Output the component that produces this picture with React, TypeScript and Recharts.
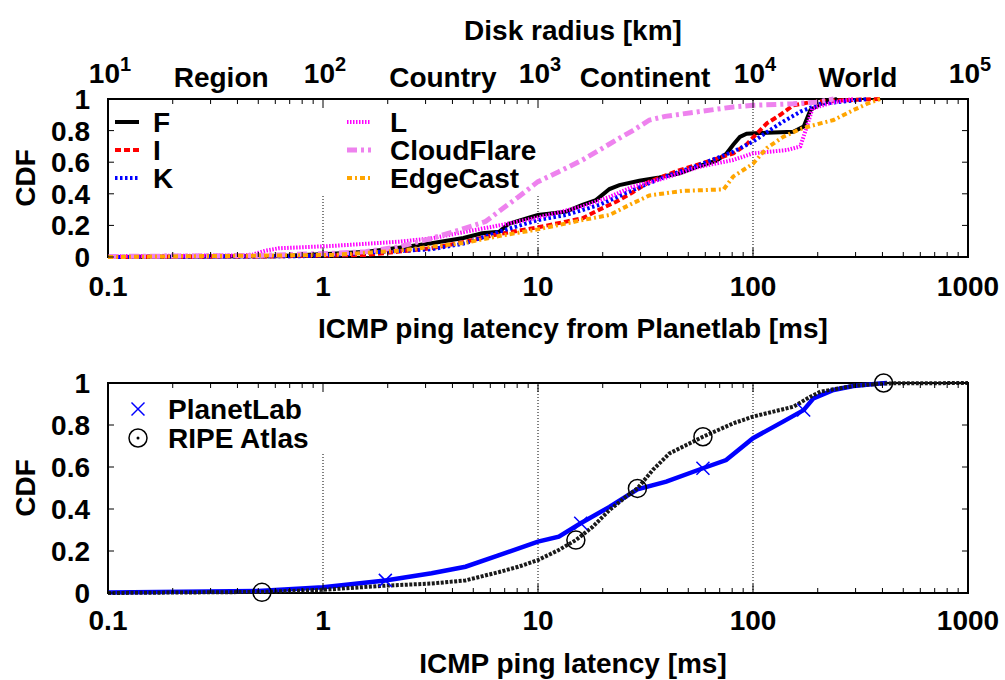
import React from 'react';
import { ComposedChart, Line, XAxis, YAxis, ReferenceLine, ReferenceArea, Legend, Label } from 'recharts';

const FONT = '"Liberation Sans", Arial, Helvetica, sans-serif';
const FS = 28;

type Pt = [number, number];

// ---- top chart: CDF of ICMP ping latency from Planetlab (ms, cdf)
const fPoints: Pt[] = [[0.1,0],[0.6,0.005],[1.1,0.02],[1.6,0.034],[2.3,0.06],[3.2,0.087],[4.5,0.12],[5.5,0.15],[6.6,0.16],[7.3,0.21],[9.4,0.255],[10,0.266],[13.5,0.287],[16.1,0.33],[18.6,0.36],[21.5,0.43],[23.9,0.455],[29.6,0.483],[36.7,0.504],[45.6,0.53],[56.5,0.576],[67.6,0.61],[75.3,0.655],[80.9,0.71],[86.9,0.76],[93.4,0.78],[116,0.787],[154,0.793],[172,0.825],[185,0.93],[206,0.97],[246,1.0]];
const iPoints: Pt[] = [[0.1,0],[0.6,0.004],[1.1,0.01],[1.58,0.013],[2.26,0.034],[3.2,0.055],[4.6,0.097],[6.6,0.146],[10,0.188],[13.5,0.224],[16.1,0.245],[19.3,0.3],[23.1,0.35],[27.6,0.41],[33,0.477],[45.6,0.55],[65,0.614],[81,0.656],[93,0.71],[104,0.78],[116,0.846],[134,0.9],[154,0.96],[185,0.98],[237,0.99],[390,1.0]];
const kPoints: Pt[] = [[0.1,0],[0.8,0.005],[1.2,0.015],[1.58,0.027],[3.2,0.049],[4.6,0.087],[6.6,0.16],[10,0.234],[13.5,0.266],[19.3,0.33],[27.6,0.424],[39,0.508],[56,0.582],[81,0.667],[100,0.73],[116,0.79],[138,0.857],[166,0.92],[206,0.97],[293,0.99],[340,1.0]];
const lPoints: Pt[] = [[0.1,0.005],[0.4,0.01],[0.47,0.015],[0.54,0.04],[0.62,0.055],[1.1,0.07],[2.26,0.097],[3.2,0.118],[4.6,0.16],[6.6,0.2],[10,0.25],[16.1,0.32],[21.5,0.38],[27.6,0.445],[39,0.5],[56,0.57],[81,0.614],[100,0.656],[144,0.677],[166,0.7],[178,0.825],[189,0.94],[237,0.98],[293,1.0]];
const cloudflarePoints: Pt[] = [[0.1,0.003],[0.5,0.01],[1.1,0.023],[1.58,0.034],[2.26,0.065],[3.2,0.118],[4.3,0.17],[5.7,0.224],[6.6,0.29],[8.1,0.38],[10,0.477],[12.5,0.54],[16.1,0.614],[19.3,0.677],[23.1,0.74],[27.6,0.8],[33,0.867],[39,0.89],[56,0.92],[81,0.95],[100,0.96],[154,0.97],[197,0.98],[237,1.0]];
const edgecastPoints: Pt[] = [[0.1,0],[1.1,0.013],[2.26,0.04],[3.2,0.065],[4.6,0.09],[6.6,0.133],[10,0.175],[16.1,0.234],[21.5,0.266],[27.6,0.34],[33,0.39],[47,0.418],[73,0.428],[81,0.51],[100,0.59],[116,0.69],[138,0.76],[166,0.81],[206,0.846],[237,0.867],[293,0.93],[340,0.97],[390,1.0]];

// ---- bottom chart: CDF of ICMP ping latency
const planetlabPoints: Pt[] = [[0.1,0.002],[0.5,0.01],[1,0.027],[1.95,0.06],[3.2,0.094],[4.6,0.125],[6.6,0.18],[10,0.245],[12.5,0.268],[15.8,0.332],[21.5,0.41],[29,0.494],[39.5,0.53],[58.5,0.594],[75,0.633],[100,0.737],[138,0.816],[172,0.871],[191,0.927],[237,0.967],[293,0.986],[390,0.998],[420,1.0]];
const ripePoints: Pt[] = [[0.1,0],[0.52,0.005],[1,0.015],[1.95,0.035],[3.2,0.045],[4.6,0.06],[6.6,0.1],[8.1,0.125],[10,0.157],[12.5,0.205],[15,0.252],[18,0.316],[21.5,0.395],[25.7,0.459],[29,0.498],[34.2,0.586],[40.9,0.665],[49,0.705],[58.5,0.744],[81,0.808],[100,0.84],[154,0.887],[185,0.935],[206,0.959],[293,0.986],[405,0.998],[1000,1.0]];
const planetlabMarks: Pt[] = [[1.95,0.06],[15.8,0.332],[58.5,0.594],[172,0.871]];
const ripeMarks: Pt[] = [[0.52,0.003],[15,0.252],[29,0.498],[58.5,0.744],[405,1.0]];

// ---- axes
const latencyLabels = [0.1, 1, 10, 100, 1000];
const cdfTicks = [0, 0.2, 0.4, 0.6, 0.8, 1];
const diskExponents = [1, 2, 3, 4, 5];
const diskZones: { name: string; km: number }[] = [
  { name: 'Region', km: 33.6 },
  { name: 'Country', km: 361 },
  { name: 'Continent', km: 3148 },
  { name: 'World', km: 30760 },
];
const gridTop: Pt[] = [[1, 0.39], [10, 0.39], [100, 1]];
const gridBottom: Pt[] = [[1, 0.67], [10, 1], [100, 1]];

const latencyTicks: number[] = (() => {
  const t: number[] = [];
  for (const d of [0.1, 1, 10, 100]) for (let m = 1; m <= 9; m++) t.push(+(m * d).toPrecision(3));
  t.push(1000);
  return t;
})();
const diskTicks = [...diskExponents.map((e) => Math.pow(10, e)), ...diskZones.map((z) => z.km)].sort((a, b) => a - b);
// axis anchor for the disk-radius scale (its two ends), so the top axis has a domain to draw
const diskAnchor = [{ km: 10, y: 0 }, { km: 100000, y: 0 }];

const toData = (pts: Pt[]) => pts.map(([x, y]) => ({ x, y }));

const topSeries = [
  { name: 'F', data: fPoints, color: '#000000', width: 4, dash: undefined as string | undefined },
  { name: 'I', data: iPoints, color: '#ff0000', width: 4, dash: '6 3' },
  { name: 'K', data: kPoints, color: '#0000ff', width: 4, dash: '2.5 2.5' },
  { name: 'L', data: lPoints, color: '#ff00ff', width: 4, dash: '1.5 1.5' },
  { name: 'CloudFlare', data: cloudflarePoints, color: '#ee82ee', width: 5, dash: '10 4 3 4' },
  { name: 'EdgeCast', data: edgecastPoints, color: '#ffa500', width: 4, dash: '5 3 2 3' },
];

const textStyle = { fontFamily: FONT, fontWeight: 700, fontSize: FS, fill: '#000' } as const;

const isDecade = (v: number) => Math.abs(Math.log10(v) - Math.round(Math.log10(v))) < 1e-6;

const makeXTick = (plotTop: number, labelDy: number) => (props: any) => {
  const { x, y, payload } = props;
  const v = payload.value as number;
  const major = isDecade(v);
  const len = major ? 9 : 5;
  return (
    <g>
      <line x1={x} x2={x} y1={y} y2={y - len} stroke="#000" strokeWidth={1} />
      <line x1={x} x2={x} y1={plotTop} y2={plotTop + len} stroke="#000" strokeWidth={1} />
      {major && latencyLabels.some((l) => Math.abs(l - v) / l < 1e-6) && (
        <text x={x} y={y + labelDy} textAnchor="middle" {...textStyle}>{String(v)}</text>
      )}
    </g>
  );
};

const makeYTick = (plotRight: number) => (props: any) => {
  const { x, y, payload } = props;
  const v = payload.value as number;
  const label = v === 0 ? '0' : v === 1 ? '1' : v.toFixed(1);
  return (
    <g>
      <line x1={x} x2={x + 6} y1={y} y2={y} stroke="#000" strokeWidth={1} />
      <line x1={plotRight - 6} x2={plotRight} y1={y} y2={y} stroke="#000" strokeWidth={1} />
      <text x={x - 18} y={y + 10} textAnchor="end" {...textStyle}>{label}</text>
    </g>
  );
};

const DiskTick = (props: any) => {
  const { x, y, payload } = props;
  const v = payload.value as number;
  const zone = diskZones.find((z) => Math.abs(z.km - v) / v < 1e-6);
  if (zone) {
    return <text x={x} y={y - 12} textAnchor="middle" {...textStyle}>{zone.name}</text>;
  }
  const e = Math.round(Math.log10(v));
  return (
    <text x={x + 2} y={y - 16} textAnchor="middle" {...textStyle}>
      <tspan>10</tspan>
      <tspan dy={-12} fontSize={20}>{String(e)}</tspan>
    </text>
  );
};

const TopLegend = () => (
  <svg width={1005} height={345} style={{ position: 'absolute', left: 0, top: 0, pointerEvents: 'none' }}>
    {topSeries.map((s, i) => {
      const col = Math.floor(i / 3);
      const row = i % 3;
      const x0 = col ? 347 : 115;
      const tx = col ? 390 : 153;
      const y = 122 + row * 28;
      return (
        <g key={s.name}>
          <line x1={x0} x2={x0 + 24} y1={y} y2={y} stroke={s.color} strokeWidth={s.width} strokeDasharray={s.dash} />
          <text x={tx} y={y + 10} {...textStyle}>{s.name}</text>
        </g>
      );
    })}
  </svg>
);

const XMark = (props: any) => {
  const { cx, cy } = props;
  if (cx == null || cy == null) return null;
  const r = 6.5;
  return (
    <g>
      <line x1={cx - r} y1={cy - r} x2={cx + r} y2={cy + r} stroke="#0000ff" strokeWidth={1.5} />
      <line x1={cx - r} y1={cy + r} x2={cx + r} y2={cy - r} stroke="#0000ff" strokeWidth={1.5} />
    </g>
  );
};

const CircleMark = (props: any) => {
  const { cx, cy } = props;
  if (cx == null || cy == null) return null;
  return <circle cx={cx} cy={cy} r={9} fill="none" stroke="#000" strokeWidth={1.5} />;
};

const BottomLegend = () => (
  <svg width={1005} height={335} style={{ position: 'absolute', left: 0, top: 0, pointerEvents: 'none' }}>
    <XMark cx={138} cy={64} />
    <text x={168} y={74} {...textStyle}>PlanetLab</text>
    <CircleMark cx={138} cy={93} />
    <circle cx={138} cy={93} r={1.5} fill="#000" />
    <text x={168} y={103} {...textStyle}>RIPE Atlas</text>
  </svg>
);

export default function App() {
  const topPlot = { top: 99, bottom: 257, right: 968 };
  const botPlot = { top: 38, bottom: 248, right: 968 };
  return (
    <div style={{ position: 'absolute', left: 0, top: 0, width: 1005, height: 680, background: '#fff' }}>
      <div style={{ position: 'absolute', left: 0, top: 0 }}>
        <ComposedChart width={1005} height={345} margin={{ top: 39, right: 37, left: 8, bottom: 8 }}>
          <XAxis
            xAxisId="km"
            dataKey="km"
            orientation="top"
            type="number"
            scale="log"
            domain={[10, 100000]}
            allowDataOverflow
            ticks={diskTicks}
            interval={0}
            axisLine={false}
            tickLine={false}
            tickSize={0}
            tickMargin={0}
            tick={DiskTick}
            height={60}
          >
            <Label content={() => <text x={573} y={40} textAnchor="middle" {...textStyle}>Disk radius [km]</text>} />
          </XAxis>
          <XAxis
            dataKey="x"
            type="number"
            scale="log"
            domain={[0.1, 1000]}
            allowDataOverflow
            ticks={latencyTicks}
            interval={0}
            axisLine={false}
            tickLine={false}
            tickSize={0}
            tickMargin={0}
            tick={makeXTick(topPlot.top, 39)}
            height={80}
          >
            <Label content={() => <text x={573} y={338} textAnchor="middle" {...textStyle}>ICMP ping latency from Planetlab [ms]</text>} />
          </XAxis>
          <YAxis
            dataKey="y"
            type="number"
            domain={[0, 1]}
            ticks={cdfTicks}
            interval={0}
            axisLine={false}
            tickLine={false}
            tickSize={0}
            tickMargin={0}
            tick={makeYTick(topPlot.right)}
            width={100}
          >
            <Label content={() => <text x={35} y={178} textAnchor="middle" transform="rotate(-90 35 178)" {...textStyle}>CDF</text>} />
          </YAxis>
          <ReferenceArea x1={0.1} x2={1000} y1={0} y2={1} fill="none" stroke="#000" strokeWidth={2} />
          {gridTop.map(([gx, gy]) => (
            <ReferenceLine key={gx} segment={[{ x: gx, y: 0 }, { x: gx, y: gy }]} stroke="#000" strokeWidth={1} strokeDasharray="1 2" />
          ))}
          <Line xAxisId="km" data={diskAnchor} dataKey="y" stroke="none" dot={false} legendType="none" isAnimationActive={false} />
          {topSeries.map((s) => (
            <Line
              key={s.name}
              data={toData(s.data)}
              dataKey="y"
              type="linear"
              stroke={s.color}
              strokeWidth={s.width}
              strokeDasharray={s.dash}
              dot={false}
              isAnimationActive={false}
            />
          ))}
          <Legend content={<TopLegend />} layout="vertical" align="center" verticalAlign="middle" wrapperStyle={{ left: 0, top: 0, width: 1005, height: 345 }} />
        </ComposedChart>
      </div>
      <div style={{ position: 'absolute', left: 0, top: 345 }}>
        <ComposedChart width={1005} height={335} margin={{ top: 38, right: 37, left: 8, bottom: 7 }}>
          <XAxis
            dataKey="x"
            type="number"
            scale="log"
            domain={[0.1, 1000]}
            allowDataOverflow
            ticks={latencyTicks}
            interval={0}
            axisLine={false}
            tickLine={false}
            tickSize={0}
            tickMargin={0}
            tick={makeXTick(botPlot.top, 37)}
            height={80}
          >
            <Label content={() => <text x={573} y={328} textAnchor="middle" {...textStyle}>ICMP ping latency [ms]</text>} />
          </XAxis>
          <YAxis
            dataKey="y"
            type="number"
            domain={[0, 1]}
            ticks={cdfTicks}
            interval={0}
            axisLine={false}
            tickLine={false}
            tickSize={0}
            tickMargin={0}
            tick={makeYTick(botPlot.right)}
            width={100}
          >
            <Label content={() => <text x={35} y={143} textAnchor="middle" transform="rotate(-90 35 143)" {...textStyle}>CDF</text>} />
          </YAxis>
          <ReferenceArea x1={0.1} x2={1000} y1={0} y2={1} fill="none" stroke="#000" strokeWidth={2} />
          {gridBottom.map(([gx, gy]) => (
            <ReferenceLine key={gx} segment={[{ x: gx, y: 0 }, { x: gx, y: gy }]} stroke="#000" strokeWidth={1} strokeDasharray="1 2" />
          ))}
          <Line data={toData(planetlabPoints)} dataKey="y" type="linear" stroke="#0000ff" strokeWidth={4.5} dot={false} isAnimationActive={false} />
          <Line data={toData(ripePoints)} dataKey="y" type="linear" stroke="#1a1a1a" strokeWidth={4} strokeDasharray="3 1.5" dot={false} isAnimationActive={false} />
          <Line data={toData(planetlabMarks)} dataKey="y" stroke="none" dot={<XMark />} isAnimationActive={false} />
          <Line data={toData(ripeMarks)} dataKey="y" stroke="none" dot={<CircleMark />} isAnimationActive={false} />
          <Legend content={<BottomLegend />} layout="vertical" align="center" verticalAlign="middle" wrapperStyle={{ left: 0, top: 0, width: 1005, height: 335 }} />
        </ComposedChart>
      </div>
    </div>
  );
}
